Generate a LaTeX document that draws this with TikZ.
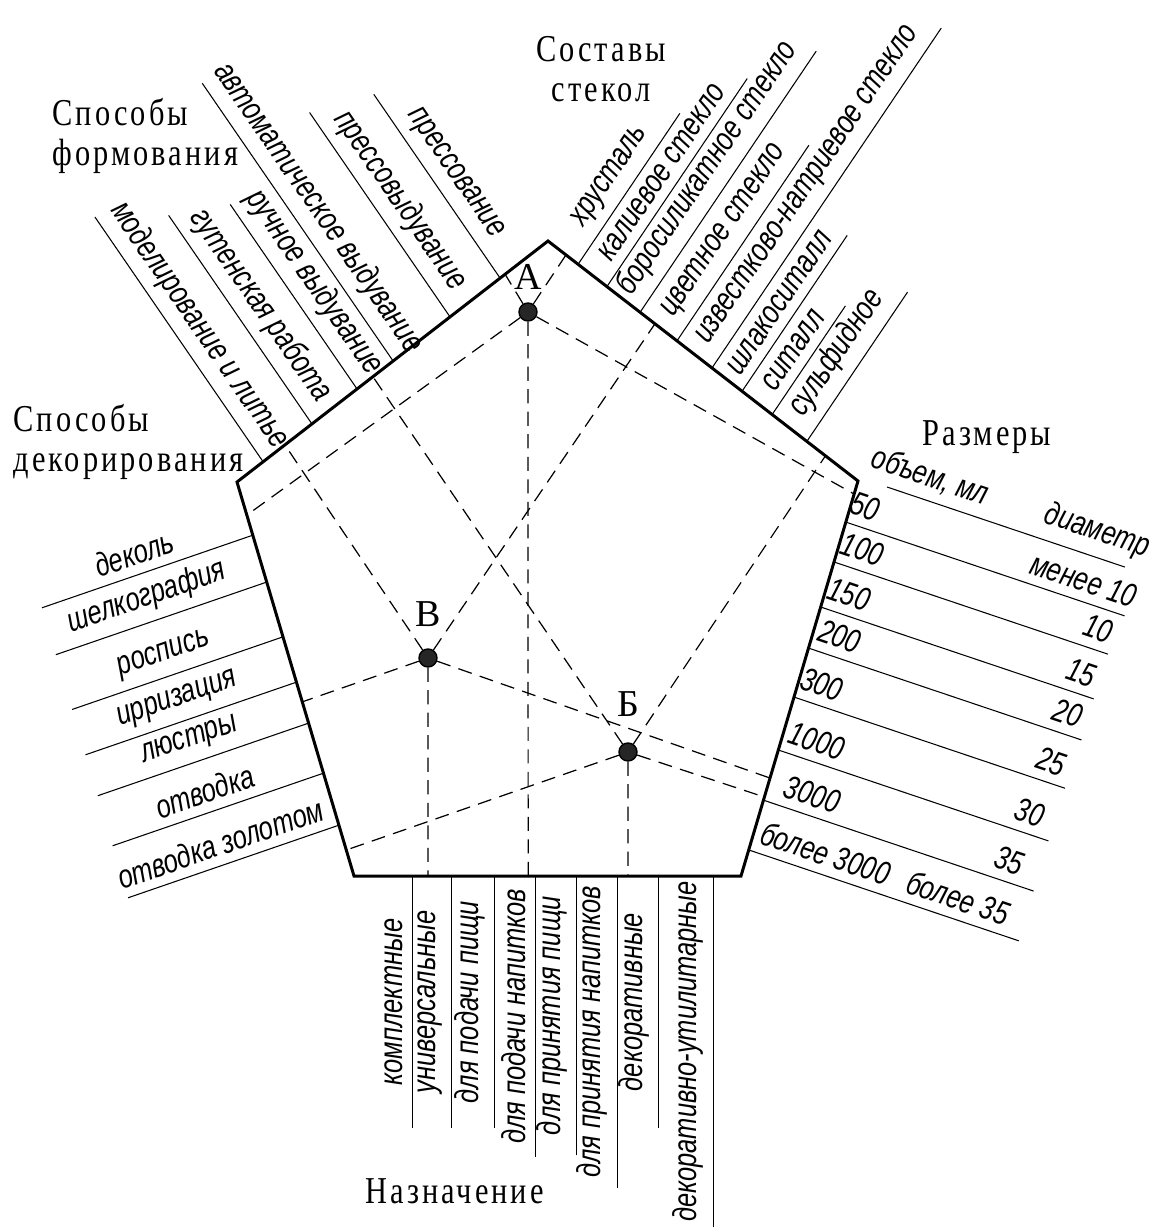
\documentclass[tikz,border=0pt]{standalone}
\usepackage{fontspec}
\setmainfont{Liberation Serif}
\newfontfamily\headfont[FakeStretch=0.8,LetterSpace=8]{Liberation Serif}
\newfontfamily\gostfont[FakeStretch=0.77]{Liberation Sans}
\usetikzlibrary{calc,positioning}

\tikzset{
  rim/.style={line width=0.85pt, line join=miter},
  leader/.style={line width=0.3pt},
  ray/.style={line width=0.35pt, dash pattern=on 4pt off 2.4pt},
  itemtext/.style={font=\gostfont\itshape\fontsize{9.4pt}{11pt}\selectfont,
    sloped, above=1.5pt, inner sep=1pt},
  headtext/.style={font=\headfont\fontsize{10.8pt}{11.4pt}\selectfont, inner sep=0pt},
  dot/.style={circle, fill=black!85, draw=black, inner sep=0pt, minimum size=0.18cm},
  ptlabel/.style={font=\fontsize{10.8pt}{12pt}\selectfont}
}

\begin{document}
\begin{tikzpicture}[x=0.01cm, y=-0.01cm]
  \useasboundingbox (0,0) rectangle (1153,1227);

  % corners of the pentagon
  \coordinate (T) at (548,241);
  \coordinate (UR) at (858,481);
  \coordinate (LR) at (741,876);
  \coordinate (LL) at (354,876);
  \coordinate (UL) at (237,482);
  \draw[rim] (T) -- (UR) -- (LR) -- (LL) -- (UL) -- cycle;

  % headings
  \node[headtext, anchor=north west, align=left] (form) at (52,98) {Способы\\формования};
  \node[headtext, anchor=north, align=center] (glass) at (601,36) {Составы\\стекол};
  \node[headtext, anchor=north west, align=left] (decor) at (13,404) {Способы\\декорирования};
  \node[headtext, anchor=base west] (size) at (922,445) {Размеры};
  \node[headtext, anchor=base west] (use) at (365,1203) {Назначение};

  % способы формования
  \foreach \t/\len/\txt in {0.846/223/прессование, 0.685/248/прессовыдувание,
      0.502/337/автоматическое выдувание, 0.386/224/ручное выдувание,
      0.241/253/гутенская работа, 0.084/297/моделирование и литье}{
    \path ($(UL)!\t!(T)$) coordinate (e) ++(235.5:\len) coordinate (o);
    \draw[leader] (o) -- (e) node[itemtext, midway] {\txt};
  }

  % составы стекол
  \foreach \t/\len/\txt in {0.097/182/хрусталь, 0.190/251/калиевое стекло,
      0.297/315/боросиликатное стекло, 0.416/236/цветное стекло,
      0.529/410/известково-натриевое стекло, 0.626/188/шлакоситалл,
      0.723/131/ситалл, 0.835/180/сульфидное}{
    \path ($(T)!\t!(UR)$) coordinate (e) ++(304:\len) coordinate (o);
    \draw[leader] (e) -- (o) node[itemtext, midway] {\txt};
  }

  % способы декорирования
  \foreach \t/\txt in {0.135/деколь, 0.254/шелкография, 0.393/роспись,
      0.508/ирризация, 0.612/люстры, 0.739/отводка, 0.871/отводка золотом}{
    \path ($(UL)!\t!(LL)$) coordinate (e) ++(161:223) coordinate (o);
    \draw[leader] (o) -- (e) node[itemtext, pos=0.47] {\txt};
  }

  % размеры
  \path (UR) ++(29,6) coordinate (h0) ++(18.6:251) coordinate (h1);
  \draw[leader] (h0) -- (h1) node[itemtext, pos=0.15] {объем, мл}
    node[itemtext, pos=0.85] {диаметр};
  \foreach \t/\len/\vol/\pv/\dia/\pd in {0.104/294/50/0.045/менее 10/0.83,
      0.205/289/100/0.08/10/0.94, 0.319/288/150/0.08/15/0.93,
      0.423/288/200/0.09/20/0.925, 0.547/286/300/0.078/25/0.924,
      0.681/285/1000/0.118/30/0.907, 0.808/285/3000/0.156/35/0.885,
      0.934/285/более 3000/0.26/более 35/0.75}{
    \path ($(UR)!\t!(LR)$) coordinate (e) ++(18.6:\len) coordinate (o);
    \draw[leader] (e) -- (o) node[itemtext, pos=\pv] {\vol}
      node[itemtext, pos=\pd] {\dia};
  }

  % назначение
  \foreach \t/\len/\txt in {0.150/252/комплектные, 0.253/252/универсальные,
      0.364/252/для подачи пищи, 0.468/281/для подачи напитков,
      0.576/279/для принятия пищи, 0.680/312/для принятия напитков,
      0.788/252/декоративные, 0.928/351/декоративно-утилитарные}{
    \path ($(LL)!\t!(LR)$) coordinate (e) ++(90:\len) coordinate (o);
    \draw[leader] (o) -- (e) node[itemtext, midway] {\txt};
  }

  % points and their links to the five sides
  \node[dot] (A) at (528,312) {};
  \node[dot] (V) at (428,658) {};
  \node[dot] (B) at (628,752) {};
  \node[ptlabel, above=0pt of A] (labA) {А};
  \node[ptlabel, above=0.09cm of V] (labV) {В};
  \node[ptlabel, above=0.13cm of B] (labB) {Б};

  \foreach \p/\qa/\qb/\qc/\qd/\qe in {A/0.862/0.058/0.084/0.033/0.45,
      V/0.154/0.345/0.558/0.752/0.191, B/0.437/0.895/0.934/0.80/0.708}{
    \coordinate (\p-ul) at ($(UL)!\qa!(T)$);
    \coordinate (\p-tr) at ($(T)!\qb!(UR)$);
    \coordinate (\p-l) at ($(UL)!\qc!(LL)$);
    \coordinate (\p-r) at ($(UR)!\qd!(LR)$);
    \coordinate (\p-b) at ($(LL)!\qe!(LR)$);
    \draw[ray] (\p) -- (\p-ul);
    \draw[ray] (\p) -- (\p-tr);
    \draw[ray] (\p) -- (\p-l);
    \draw[ray] (\p) -- (\p-r);
    \draw[ray] (\p) -- (\p-b);
  }
\end{tikzpicture}
\end{document}
